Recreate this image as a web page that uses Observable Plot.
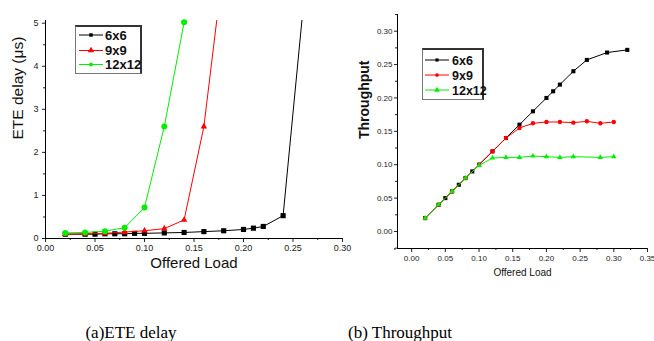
<!DOCTYPE html>
<html><head><meta charset="utf-8">
<script src="https://cdn.jsdelivr.net/npm/d3@7"></script>
<script src="https://cdn.jsdelivr.net/npm/@observablehq/plot@0.6"></script>
<style>
body{margin:0;background:#fff;}
#wrap{position:relative;width:654px;height:341px;overflow:hidden;font-family:"Liberation Sans",Arial,sans-serif;}
.abs{position:absolute;}
.legend{position:absolute;box-sizing:border-box;background:#fff;border-left:1px solid #777;border-bottom:1px solid #777;border-top:2px solid #333;border-right:2px solid #333;}
.cap{position:absolute;font-family:"Liberation Serif","Times New Roman",serif;font-size:17px;line-height:17px;white-space:nowrap;transform:translateX(-50%);color:#000;}
</style></head><body><div id="wrap"></div>
<script>
// ---------- data: (a) ETE delay ----------
const seriesNames = ["6x6", "9x9", "12x12"];
const delayLoad6 = [0.02,0.04,0.05,0.06,0.07,0.08,0.09,0.10,0.12,0.14,0.16,0.18,0.20,0.21,0.22,0.24,0.26];
const delay6     = [0.10,0.10,0.10,0.11,0.11,0.11,0.12,0.12,0.13,0.14,0.16,0.18,0.21,0.24,0.28,0.53,5.3];
const delayLoad9 = [0.02,0.04,0.06,0.08,0.10,0.12,0.14,0.16,0.18];
const delay9     = [0.10,0.11,0.12,0.15,0.18,0.23,0.43,2.6,6.4];
const delayLoad12= [0.02,0.04,0.06,0.08,0.10,0.12,0.14];
const delay12    = [0.13,0.14,0.17,0.25,0.72,2.6,5.02];
const delayXTicks = [0,0.05,0.10,0.15,0.20,0.25,0.30];
const delayXMinor = [0.025,0.075,0.125,0.175,0.225,0.275];
const delayYTicks = [0,1,2,3,4,5];
const delayYMinor = [0.5,1.5,2.5,3.5,4.5];

// ---------- data: (b) Throughput ----------
const tpLoad6 = [0.02,0.04,0.05,0.06,0.07,0.08,0.09,0.10,0.12,0.14,0.16,0.18,0.20,0.21,0.22,0.24,0.26,0.29,0.32];
const tp6     = [0.02,0.04,0.05,0.06,0.07,0.08,0.09,0.10,0.12,0.14,0.16,0.18,0.20,0.21,0.22,0.24,0.257,0.268,0.272];
const tpLoad9 = [0.02,0.04,0.06,0.08,0.10,0.12,0.14,0.16,0.18,0.20,0.22,0.24,0.26,0.28,0.30];
const tp9     = [0.02,0.04,0.06,0.08,0.10,0.12,0.14,0.155,0.162,0.164,0.164,0.163,0.165,0.162,0.164];
const tpLoad12= [0.02,0.04,0.06,0.08,0.10,0.12,0.14,0.16,0.18,0.20,0.22,0.24,0.28,0.30];
const tp12    = [0.02,0.04,0.06,0.08,0.099,0.110,0.111,0.111,0.113,0.112,0.111,0.112,0.111,0.112];
const tpXTicks = [0,0.05,0.10,0.15,0.20,0.25,0.30,0.35];
const tpXMinor = [-0.025,0.025,0.075,0.125,0.175,0.225,0.275,0.325];
const tpYTicks = [0,0.05,0.10,0.15,0.20,0.25,0.30];
const tpYMinor = [-0.025,0.025,0.075,0.125,0.175,0.225,0.275,0.325];

const colors = ["#000000", "#ff0000", "#00ee00"];
const zip = (xs, ys) => xs.map((x, i) => ({x, y: ys[i]}));
const wrap = document.getElementById("wrap");
const font = "'Liberation Sans', Arial, sans-serif";

// ---------- chart (a) ----------
const aX = [0, 0.30], aY = [0, 5.063];
const aSeries = [
  {data: zip(delayLoad6, delay6), color: colors[0], symbol: "square", r: 2.9},
  {data: zip(delayLoad9, delay9), color: colors[1], symbol: "triangle", r: 2.4},
  {data: zip(delayLoad12, delay12), color: colors[2], symbol: "circle", r: 3}
];
const chartA = Plot.plot({
  width: 360, height: 290,
  marginLeft: 45, marginRight: 18, marginTop: 20, marginBottom: 52,
  style: {background: "transparent", fontFamily: font},
  x: {domain: aX, label: null},
  y: {domain: aY, label: null},
  marks: [
    Plot.axisX(delayXTicks, {tickSize: 4, tickPadding: 2, fontSize: 9, color: "#222", tickFormat: d3.format(".2f"), label: null}),
    Plot.axisX(delayXMinor, {tickSize: 2, tickFormat: () => "", color: "#222", label: null}),
    Plot.axisY(delayYTicks, {tickSize: 3, tickPadding: 4, fontSize: 9, color: "#222", tickFormat: d3.format("d"), label: null}),
    Plot.axisY(delayYMinor, {tickSize: 2, tickFormat: () => "", color: "#222", label: null}),
    Plot.ruleY([aY[0]], {stroke: "black"}),
    Plot.ruleX([aX[0]], {stroke: "black"}),
    ...aSeries.flatMap(s => [
      Plot.line(s.data, {x: "x", y: "y", stroke: s.color, strokeWidth: 1, clip: true}),
      Plot.dot(s.data, {x: "x", y: "y", symbol: s.symbol, r: s.r, fill: s.color, stroke: "none", filter: d => d.y <= aY[1]})
    ]),
    Plot.text(["ETE delay (\u03bcs)"], {text: d => d, frameAnchor: "left", rotate: -90, dx: -27, dy: 10, fontSize: 15.5, fill: "#111"}),
    Plot.text(["Offered Load"], {text: d => d, frameAnchor: "bottom", dy: 29, fontSize: 15, fill: "#111"})
  ]
});
chartA.style.position = "absolute"; chartA.style.left = "0px"; chartA.style.top = "0px";
wrap.appendChild(chartA);

// ---------- chart (b) ----------
const bX = [-0.021, 0.35], bY = [-0.0255, 0.325];
const bSeries = [
  {data: zip(tpLoad6, tp6), color: colors[0], symbol: "square", r: 2.3},
  {data: zip(tpLoad9, tp9), color: colors[1], symbol: "circle", r: 2.2},
  {data: zip(tpLoad12, tp12), color: colors[2], symbol: "triangle", r: 2}
];
const chartB = Plot.plot({
  width: 324, height: 290,
  marginLeft: 67, marginRight: 7, marginTop: 14, marginBottom: 42,
  style: {background: "transparent", fontFamily: font},
  x: {domain: bX, label: null},
  y: {domain: bY, label: null},
  marks: [
    Plot.axisX(tpXTicks, {tickSize: 4, tickPadding: 3, fontSize: 8, color: "#222", tickFormat: d3.format(".2f"), label: null}),
    Plot.axisX(tpXMinor, {tickSize: 2, tickFormat: () => "", color: "#222", label: null}),
    Plot.axisY(tpYTicks, {tickSize: 3, tickPadding: 2, fontSize: 8, color: "#222", tickFormat: d3.format(".2f"), label: null}),
    Plot.axisY(tpYMinor, {tickSize: 2, tickFormat: () => "", color: "#222", label: null}),
    Plot.ruleY([bY[0]], {stroke: "black"}),
    Plot.ruleX([bX[0]], {stroke: "black"}),
    ...bSeries.flatMap(s => [
      Plot.line(s.data, {x: "x", y: "y", stroke: s.color, strokeWidth: 1}),
      Plot.dot(s.data, {x: "x", y: "y", symbol: s.symbol, r: s.r, fill: s.color, stroke: "none"})
    ]),
    Plot.text(["Throughput"], {text: d => d, frameAnchor: "left", rotate: -90, dx: -33, dy: 7.5, fontSize: 14, fontWeight: "bold", fill: "#111"}),
    Plot.text(["Offered Load"], {text: d => d, frameAnchor: "bottom", dy: 27, fontSize: 10, fill: "#111"})
  ]
});
chartB.style.position = "absolute"; chartB.style.left = "330px"; chartB.style.top = "0px";
wrap.appendChild(chartB);

// ---------- legends ----------
function legend(left, top, w, h, rows, symbols, sizes, fontSize, lineX0, lineX1, textX) {
  const div = document.createElement("div");
  div.className = "legend";
  Object.assign(div.style, {left: left + "px", top: top + "px", width: w + "px", height: h + "px"});
  const svg = d3.create("svg").attr("width", w).attr("height", h)
    .style("position", "absolute").style("left", "-1px").style("top", "-2px").style("overflow", "visible");
  seriesNames.forEach((name, i) => {
    const y = rows[i];
    const g = svg.append("g");
    g.append("line").attr("x1", lineX0).attr("x2", lineX1).attr("y1", y).attr("y2", y)
      .attr("stroke", colors[i]).attr("stroke-width", 1);
    const sym = {square: d3.symbolSquare, triangle: d3.symbolTriangle, circle: d3.symbolCircle}[symbols[i]];
    g.append("path").attr("transform", `translate(${(lineX0 + lineX1) / 2},${y})`)
      .attr("d", d3.symbol(sym, sizes[i])()).attr("fill", colors[i]);
    g.append("text").attr("x", textX).attr("y", y).attr("dy", "0.36em")
      .attr("font-family", font).attr("font-weight", "bold").attr("font-size", fontSize)
      .attr("fill", "#111").text(name);
  });
  div.appendChild(svg.node());
  wrap.appendChild(div);
}
legend(75, 25, 67, 49, [10, 25.5, 39.5], ["square", "triangle", "circle"], [12, 18, 12], 13, 4, 28, 30);
legend(422, 48, 62, 52, [12, 27, 42], ["square", "circle", "triangle"], [10, 11, 14], 12.5, 3, 27, 30);

// ---------- captions ----------
[["(a)ETE delay", 131], ["(b) Throughput", 400]].forEach(([t, cx]) => {
  const d = document.createElement("div");
  d.className = "cap"; d.textContent = t;
  d.style.left = cx + "px"; d.style.top = "324px";
  wrap.appendChild(d);
});
</script>
</body></html>
